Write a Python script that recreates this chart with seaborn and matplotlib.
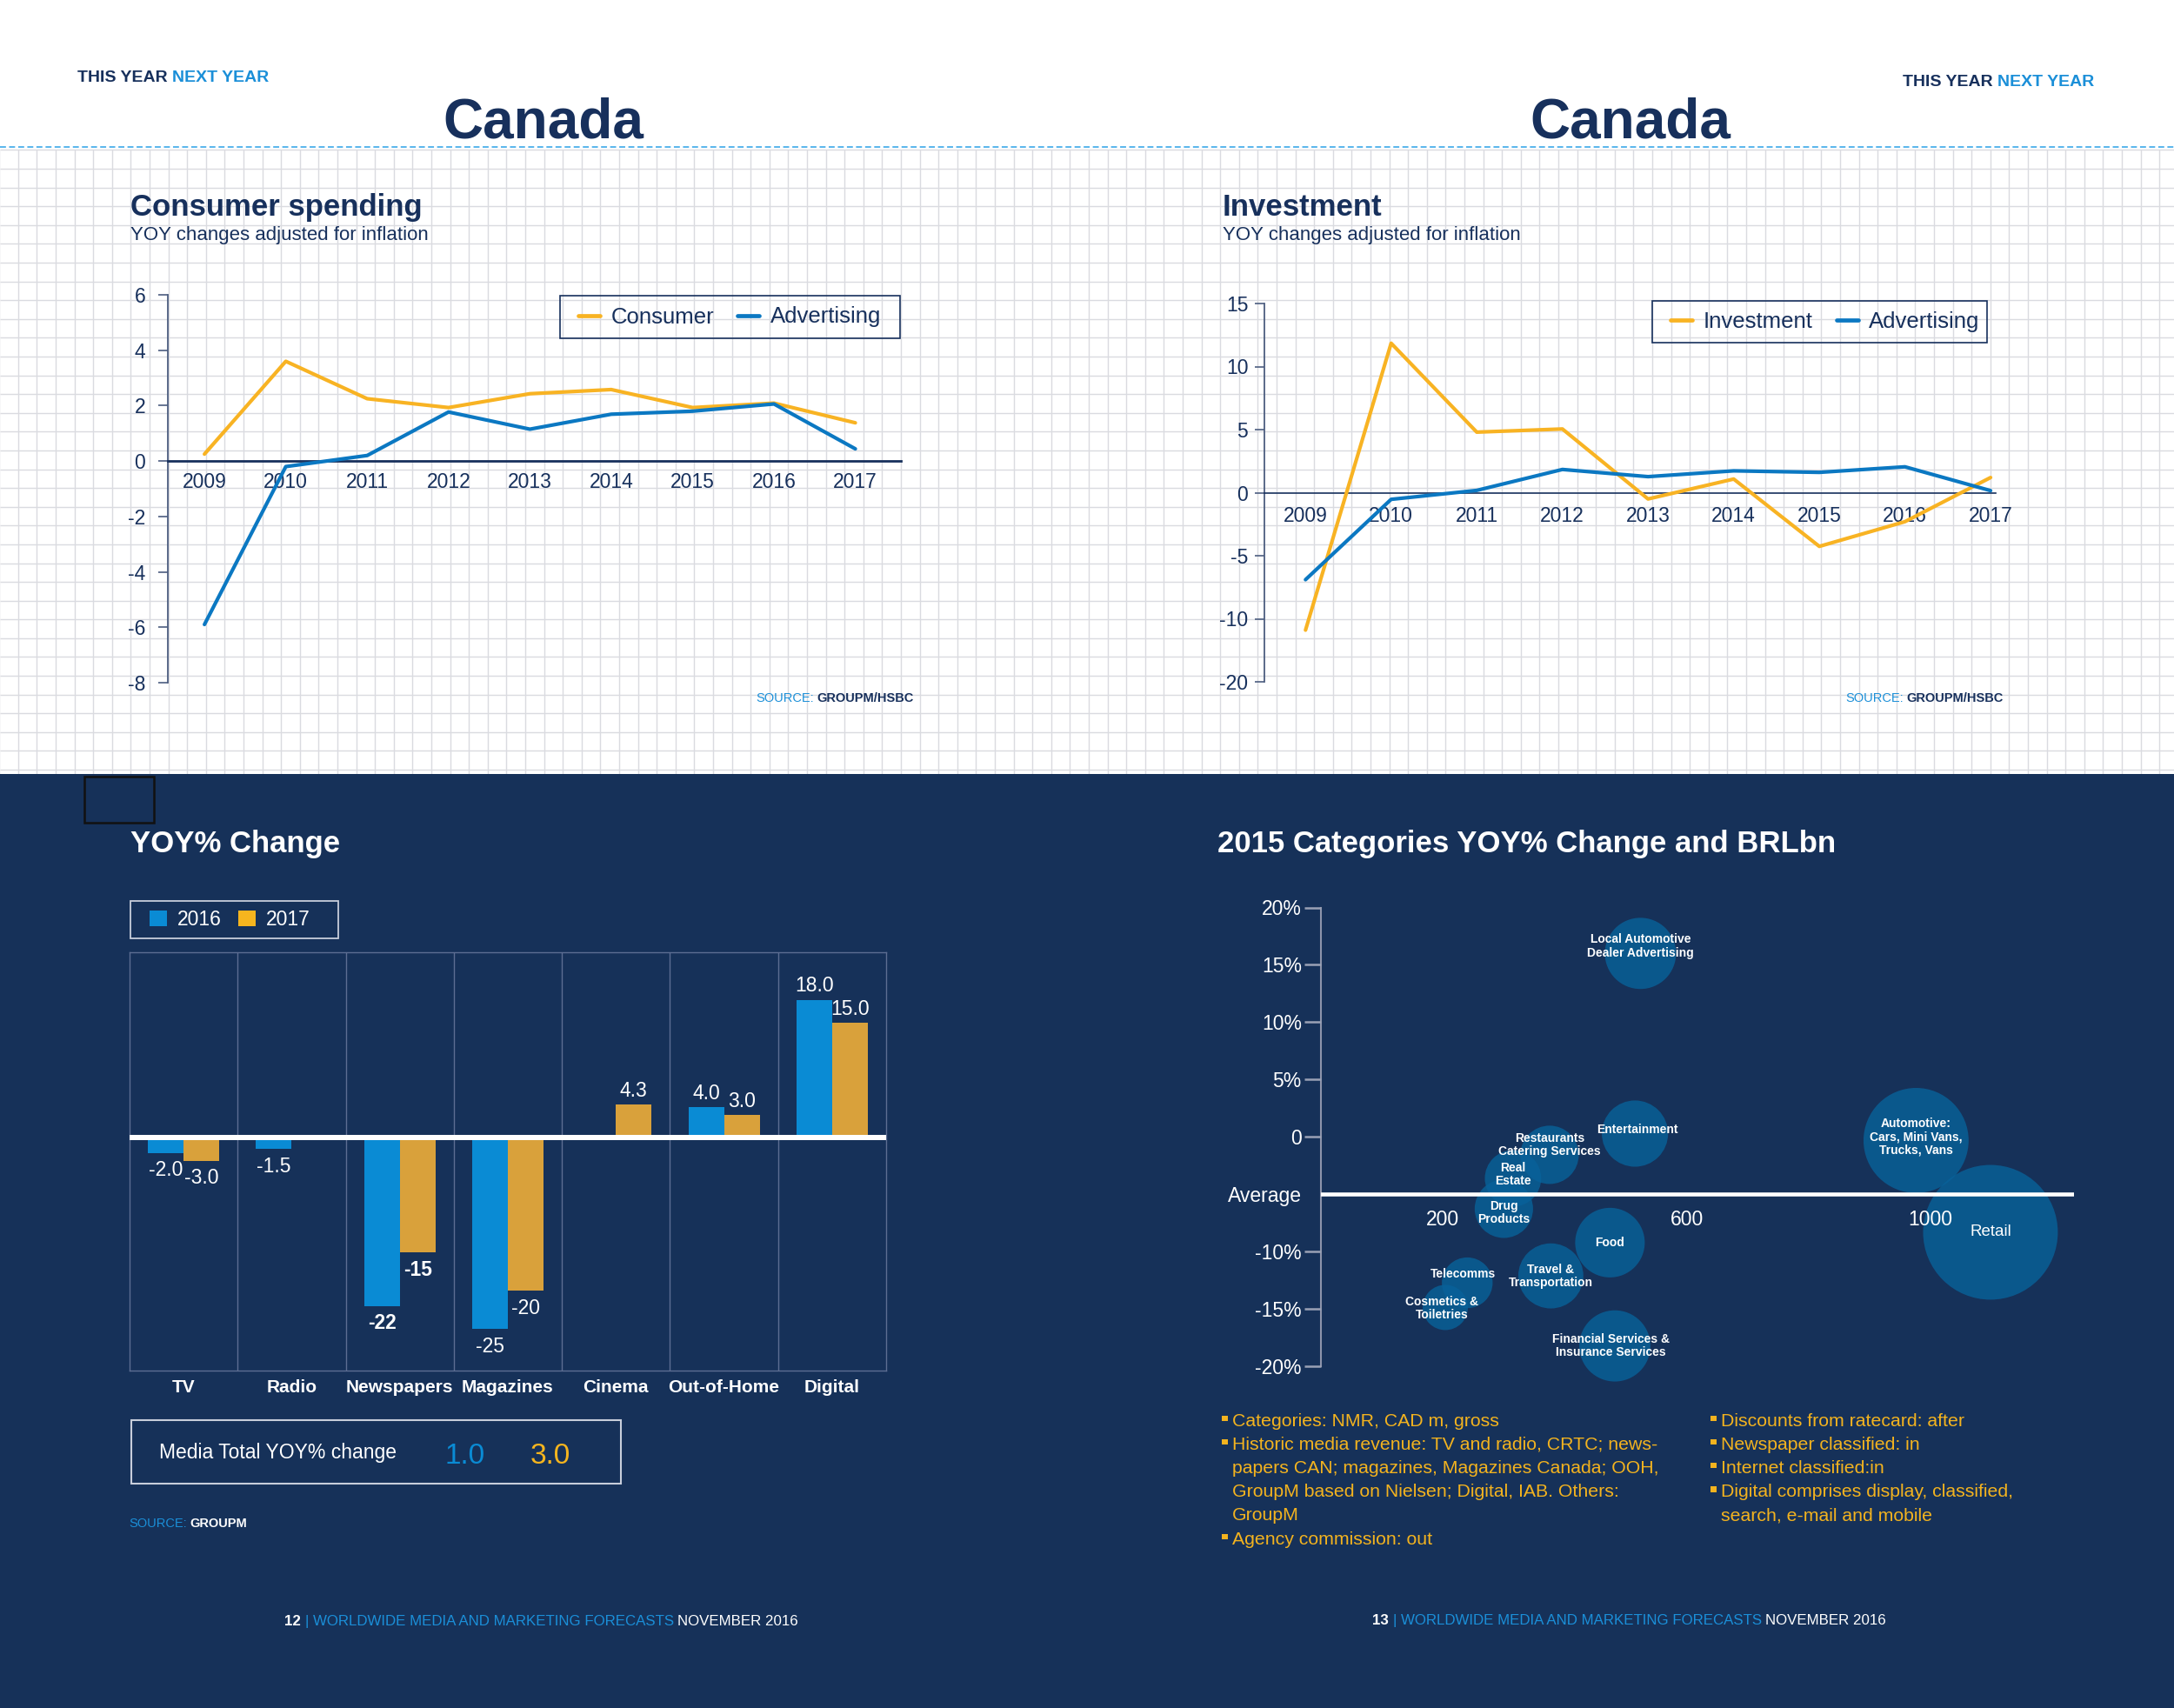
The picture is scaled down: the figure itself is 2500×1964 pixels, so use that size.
import numpy as np
import pandas as pd
import matplotlib
matplotlib.use("Agg")
import matplotlib.pyplot as plt
import seaborn as sns
from matplotlib.patches import Rectangle, Patch
from matplotlib.lines import Line2D

# ---------------- data ----------------
years = [2009, 2010, 2011, 2012, 2013, 2014, 2015, 2016, 2017]
consumer = [0.25, 3.6, 2.25, 1.93, 2.43, 2.58, 1.93, 2.09, 1.38]
consumer_advertising = [-5.9, -0.2, 0.2, 1.77, 1.15, 1.69, 1.8, 2.06, 0.44]
investment = [-10.9, 11.85, 4.8, 5.05, -0.5, 1.08, -4.26, -2.3, 1.2]
investment_advertising = [-6.9, -0.53, 0.18, 1.84, 1.27, 1.73, 1.61, 2.05, 0.16]
consumer_yticks = [6, 4, 2, 0, -2, -4, -6, -8]
investment_yticks = [15, 10, 5, 0, -5, -10, -15]
investment_ytick_labels = ["15", "10", "5", "0", "-5", "-10", "-20"]

media = ["TV", "Radio", "Newspapers", "Magazines", "Cinema", "Out-of-Home", "Digital"]
yoy_2016 = [-2.0, -1.5, -22.0, -25.0, np.nan, 4.0, 18.0]
yoy_2017 = [-3.0, np.nan, -15.0, -20.0, 4.3, 3.0, 15.0]
labels_2016 = ["-2.0", "-1.5", "-22", "-25", "", "4.0", "18.0"]
labels_2017 = ["-3.0", "", "-15", "-20", "4.3", "3.0", "15.0"]
bar_years = ["2016", "2017"]
media_total = [1.0, 3.0]

bubble_categories = [
    "Local Automotive\nDealer Advertising", "Entertainment",
    "Restaurants\nCatering Services", "Real\nEstate", "Drug\nProducts", "Food",
    "Travel &\nTransportation", "Telecomms", "Cosmetics &\nToiletries",
    "Financial Services &\nInsurance Services",
    "Automotive:\nCars, Mini Vans,\nTrucks, Vans", "Retail"]
bubble_spend = [524, 515, 375, 315, 300, 474, 377, 240, 204, 482, 976, 1098]
bubble_yoy = [16.0, 0.3, -1.55, -3.6, -6.25, -9.2, -12.1, -12.7, -14.85, -18.2, -0.3, -8.3]
bubble_value = [67, 58, 45, 42, 45, 64, 56, 34, 27, 67, 146, 240]
bubble_yticks = [20, 15, 10, 5, 0, -5, -10, -15, -20]
bubble_ytick_labels = ["20%", "15%", "10%", "5%", "0", "Average", "-10%", "-15%", "-20%"]
bubble_xticks = [200, 600, 1000]
average_level = -5

notes_left = [("Categories: NMR, CAD m, gross", True),
              ("Historic media revenue: TV and radio, CRTC; news-", True),
              ("papers CAN; magazines, Magazines Canada; OOH,", False),
              ("GroupM based on Nielsen; Digital, IAB. Others:", False),
              ("GroupM", False),
              ("Agency commission: out", True)]
notes_right = [("Discounts from ratecard: after", True),
               ("Newspaper classified: in", True),
               ("Internet classified:in", True),
               ("Digital comprises display, classified,", True),
               ("search, e-mail and mobile", False)]

# ---------------- style ----------------
NAVY_BG = "#163159"
NAVY_TXT = "#17305c"
BLUE_TXT = "#1b8fd8"
ORANGE = "#f8b323"
BLUE_LINE = "#0b78c2"
BAR_BLUE = "#0a8bd4"
BAR_GOLD = "#d9a13b"
LEG_GOLD = "#f6b51e"
GOLD_TXT = "#f3b31f"
GRID = "#dadbe0"
SPINE = "#4d5e80"
BUB = "#08629a"

sns.set_style("white")
plt.rcParams["font.family"] = ["Liberation Sans", "DejaVu Sans"]

W, H = 2500, 1964
fig = plt.figure(figsize=(W / 100, H / 100), dpi=100)
fig.patch.set_facecolor("white")
bg = fig.add_axes([0, 0, 1, 1])
bg.set_xlim(0, W)
bg.set_ylim(H, 0)
bg.axis("off")

# grid paper and dark panel
bg.vlines(np.arange(20.7 - 21.6, W + 1, 21.6), 172, 890, color=GRID, lw=1.0, zorder=0)
bg.hlines(np.arange(172.3, 890, 21.6), 0, W, color=GRID, lw=1.0, zorder=0)
bg.hlines(168.5, 0, W, color="#4bb0ea", lw=1.3, linestyles=(0, (3.8, 2.0)), zorder=1)
bg.add_patch(Rectangle((0, 890), W, H - 890, fc=NAVY_BG, ec="none", zorder=1))
bg.add_patch(Rectangle((97, 893), 80, 53, fc="none", ec="#111111", lw=1.8, zorder=2))

renderer = fig.canvas.get_renderer()


def chain(x, y, parts, size):
    space = size * 100 / 72 * 0.278
    for s, color, weight in parts:
        t = bg.text(x, y, s, fontsize=size, color=color, fontweight=weight,
                    ha="left", va="baseline", zorder=5)
        x += t.get_window_extent(renderer).width + space


def px_axes(x0, y0, x1, y1):
    ax = fig.add_axes([x0 / W, 1 - y1 / H, (x1 - x0) / W, (y1 - y0) / H])
    ax.set_facecolor("none")
    return ax


def frame(x0, y0, x1, y1, color, lw):
    bg.add_patch(Rectangle((x0, y0), x1 - x0, y1 - y0, fc="none", ec=color, lw=lw, zorder=3))


# ---------------- headers ----------------
chain(89, 94, [("THIS YEAR", NAVY_TXT, "bold"), ("NEXT YEAR", BLUE_TXT, "bold")], 14)
chain(2188, 99, [("THIS YEAR", NAVY_TXT, "bold"), ("NEXT YEAR", BLUE_TXT, "bold")], 14)
for cx in (625, 1875):
    bg.text(cx, 158, "Canada", fontsize=46, fontweight="bold", color=NAVY_TXT,
            ha="center", va="baseline")

bg.text(150, 248, "Consumer spending", fontsize=25, fontweight="bold", color=NAVY_TXT, va="baseline")
bg.text(150, 276, "YOY changes adjusted for inflation", fontsize=16, color=NAVY_TXT, va="baseline")
bg.text(1406, 248, "Investment", fontsize=25, fontweight="bold", color=NAVY_TXT, va="baseline")
bg.text(1406, 276, "YOY changes adjusted for inflation", fontsize=16, color=NAVY_TXT, va="baseline")
chain(869, 807, [("SOURCE:", BLUE_TXT, "normal"), ("GROUPM/HSBC", NAVY_TXT, "bold")], 10.5)
chain(2122, 807, [("SOURCE:", BLUE_TXT, "normal"), ("GROUPM/HSBC", NAVY_TXT, "bold")], 10.5)


# ---------------- line charts ----------------
def line_chart(box, series, vals, adv, yticks, ylabels, xlim, zero_lw, ypad, xpad, legbox, hx):
    ax = px_axes(*box)
    x0, y0, x1, y1 = box
    df = pd.DataFrame({"year": years + years, "value": vals + adv,
                       "series": [series] * len(years) + ["Advertising"] * len(years)})
    sns.lineplot(data=df, x="year", y="value", hue="series", hue_order=[series, "Advertising"],
                 palette=[ORANGE, BLUE_LINE], linewidth=3, legend=False, ax=ax, zorder=3)
    ax.set_xlim(*xlim)
    ax.set_ylim(min(yticks), max(yticks))
    ax.set_xlabel("")
    ax.set_ylabel("")
    ax.set_yticks(yticks)
    ax.set_yticklabels(ylabels)
    ax.set_xticks(years)
    ax.set_xticklabels([str(y) for y in years])
    for s in ("top", "right"):
        ax.spines[s].set_visible(False)
    ax.spines["left"].set_color(SPINE)
    ax.spines["left"].set_linewidth(1.3)
    ax.spines["bottom"].set_position(("data", 0))
    ax.spines["bottom"].set_color(NAVY_TXT)
    ax.spines["bottom"].set_linewidth(zero_lw)
    ax.tick_params(axis="y", length=8, width=1.2, color=SPINE, direction="out",
                   pad=ypad, labelsize=16.5, labelcolor=NAVY_TXT, left=True)
    ax.tick_params(axis="x", length=0, pad=xpad, labelsize=16.5, labelcolor=NAVY_TXT)
    frame(*legbox, NAVY_TXT, 1.2)
    yc = (legbox[1] + legbox[3]) / 2
    handles = [Line2D([0], [0], color=ORANGE, lw=3.4), Line2D([0], [0], color=BLUE_LINE, lw=3.4)]
    ax.legend(handles, [series, "Advertising"], ncol=2, loc="center left",
              bbox_to_anchor=((hx - x0) / (x1 - x0), (y1 - yc) / (y1 - y0)),
              frameon=False, fontsize=18.5, labelcolor=NAVY_TXT, handlelength=0.97,
              handletextpad=0.5, columnspacing=1.05, borderpad=0, borderaxespad=0)
    return ax


line_chart((193, 339, 1036, 785), "Consumer", consumer, consumer_advertising,
           consumer_yticks, [str(t) for t in consumer_yticks], (2008.55, 2017.56),
           2.0, 10.5, 9, (644, 340, 1035, 389), 665)
line_chart((1454, 349, 2295, 784), "Investment", investment, investment_advertising,
           investment_yticks, investment_ytick_labels, (2008.52, 2017.06),
           1.2, 5.5, 11.5, (1900, 346, 2285, 394), 1921)

# ---------------- bar chart ----------------
bg.text(150, 980, "YOY% Change", fontsize=25, fontweight="bold", color="white", va="baseline")
bx0, by0, bx1, by1 = 149, 1095, 1019, 1576
axb = px_axes(bx0, by0, bx1, by1)
rows = []
for m, a, b in zip(media, yoy_2016, yoy_2017):
    if not np.isnan(a):
        rows.append((m, bar_years[0], a))
    if not np.isnan(b):
        rows.append((m, bar_years[1], b))
dfb = pd.DataFrame(rows, columns=["media", "year", "value"])
sns.barplot(data=dfb, x="media", y="value", hue="year", order=media, hue_order=bar_years,
            palette=[BAR_BLUE, BAR_GOLD], width=0.66, saturation=1, errorbar=None,
            legend=False, ax=axb, linewidth=0, zorder=2)
axb.set_xlim(-0.5, len(media) - 0.5)
axb.set_ylim(-30.4, 24.2)
axb.set_xlabel("")
axb.set_ylabel("")
axb.set_yticks([])
for s in axb.spines.values():
    s.set_color("#5d6e92")
    s.set_linewidth(1.0)
for i in range(1, len(media)):
    axb.axvline(i - 0.5, color="#5d6e92", lw=1.0, zorder=1)
axb.axhline(0, color="white", lw=4.3, zorder=3)
axb.tick_params(axis="x", length=0, pad=7, labelsize=15, labelcolor="white")
for t in axb.get_xticklabels():
    t.set_fontweight("bold")
for i, m in enumerate(media):
    for off, v, lab in ((-0.165, yoy_2016[i], labels_2016[i]), (0.165, yoy_2017[i], labels_2017[i])):
        if lab == "":
            continue
        pos = v >= 0
        axb.annotate(lab, (i + off, v), xytext=(0, 3 if pos else -6), textcoords="offset points",
                     ha="center", va="bottom" if pos else "top", fontsize=16.5, color="white",
                     fontweight="bold" if m == "Newspapers" else "normal", zorder=4)
frame(150, 1036, 389, 1079, "#c8cedb", 1.3)
lh = [Patch(fc=BAR_BLUE, ec="none"), Patch(fc=LEG_GOLD, ec="none")]
axb.legend(lh, bar_years, ncol=2, loc="center left",
           bbox_to_anchor=((171.6 - bx0) / (bx1 - bx0), (by1 - 1057.5) / (by1 - by0)),
           frameon=False, fontsize=16.5, labelcolor="white", handlelength=0.88,
           handleheight=0.88, handletextpad=0.55, columnspacing=0.8, borderpad=0, borderaxespad=0)

frame(151, 1633, 714, 1706, "#c8cedb", 1.5)
bg.text(183, 1677, "Media Total YOY% change", fontsize=16.5, color="white", va="baseline")
bg.text(511, 1683, f"{media_total[0]:.1f}", fontsize=24, color=BAR_BLUE, va="baseline")
bg.text(610, 1683, f"{media_total[1]:.1f}", fontsize=24, color=LEG_GOLD, va="baseline")
chain(148, 1756, [("SOURCE:", BLUE_TXT, "normal"), ("GROUPM", "white", "bold")], 10.5)

# ---------------- bubble chart ----------------
bg.text(1400, 980, "2015 Categories YOY% Change and BRLbn", fontsize=25, fontweight="bold",
        color="white", va="baseline")
axs = px_axes(1519, 1043.5, 2385, 1571.4)
axs.set_axisbelow(False)
dfs = pd.DataFrame({"category": bubble_categories, "spend": bubble_spend,
                    "yoy": bubble_yoy, "value": bubble_value})
k = 51.84
vmin, vmax = min(bubble_value), max(bubble_value)
sns.scatterplot(data=dfs, x="spend", y="yoy", size="value", sizes=(vmin * k, vmax * k),
                size_norm=(vmin, vmax), color=BUB, alpha=0.8, linewidth=0, legend=False,
                ax=axs, clip_on=False, zorder=2)
axs.set_xlim(0, 1235)
axs.set_ylim(-20, 20)
axs.set_xlabel("")
axs.set_ylabel("")
axs.axhline(average_level, color="white", lw=3.3, zorder=3)
for s in ("top", "right"):
    axs.spines[s].set_visible(False)
axs.spines["left"].set_color("#8d94ab")
axs.spines["left"].set_linewidth(1.5)
axs.spines["bottom"].set_position(("data", average_level))
axs.spines["bottom"].set_visible(False)
axs.set_yticks(bubble_yticks)
axs.set_yticklabels(bubble_ytick_labels)
axs.set_xticks(bubble_xticks)
axs.set_xticklabels([str(v) for v in bubble_xticks])
axs.tick_params(axis="y", length=14, width=1.8, color="#9aa1b5", direction="out", pad=2,
                labelsize=16.5, labelcolor="white", left=True)
axs.tick_params(axis="x", length=0, pad=12.5, labelsize=16.5, labelcolor="white")
axs.yaxis.get_major_ticks()[bubble_yticks.index(average_level)].tick1line.set_visible(False)
label_offsets = {0: (0, 6), 1: (2, 3), 2: (0, 8.5), 3: (0, 3.5), 4: (0, -3.5),
                 7: (-3.5, 7), 8: (-3, -1), 9: (-3.5, 0), 10: (0, 3)}
for i, name in enumerate(bubble_categories):
    dx, dy = label_offsets.get(i, (0, 0))
    big = name == "Retail"
    axs.annotate(name, (bubble_spend[i], bubble_yoy[i]), xytext=(dx, dy), textcoords="offset points",
                 ha="center", va="center", fontsize=13.5 if big else 10,
                 fontweight="normal" if big else "bold",
                 color="white", linespacing=1.1, zorder=4, annotation_clip=False)

# notes
step = 27.2
for col_x, lines in ((1405, notes_left), (1967, notes_right)):
    for j, (txt, bullet) in enumerate(lines):
        yc = 1632 + j * step
        if bullet:
            bg.add_patch(Rectangle((col_x, yc - 4.5), 6.5, 6.5, fc=GOLD_TXT, ec="none", zorder=4))
        bg.text(col_x + 12, yc + 7.5, txt, fontsize=15.3, color=GOLD_TXT, va="baseline", zorder=4)

# footers
chain(327, 1869, [("12", "white", "bold"), ("|", BLUE_TXT, "normal"),
                  ("WORLDWIDE MEDIA AND MARKETING FORECASTS", BLUE_TXT, "normal"),
                  ("NOVEMBER 2016", "white", "normal")], 12.2)
chain(1578, 1868, [("13", "white", "bold"), ("|", BLUE_TXT, "normal"),
                   ("WORLDWIDE MEDIA AND MARKETING FORECASTS", BLUE_TXT, "normal"),
                   ("NOVEMBER 2016", "white", "normal")], 12.2)

fig.savefig("out.png", dpi=100)
